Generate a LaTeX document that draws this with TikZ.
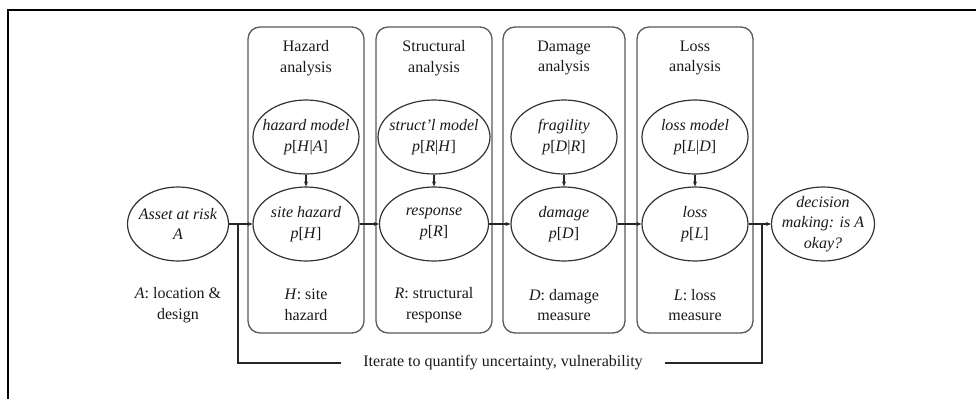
\documentclass[tikz,border=0pt]{standalone}
\usepackage{fontspec}
\setmainfont{Liberation Serif}
\usepackage{tikz}
\usetikzlibrary{shapes.geometric, arrows.meta}

\begin{document}
\begin{tikzpicture}[x=1pt, y=-1pt, >={Stealth[length=5pt, width=4pt]},
    every node/.style={font=\fontsize{16}{20.5}\selectfont, text=black!90, align=center},
    stage/.style={draw=black!65, line width=1.3pt, rounded corners=12pt, minimum width=116pt, minimum height=306pt, inner sep=0pt},
    est/.style={draw=black!80, line width=1.2pt, ellipse, minimum width=106pt, minimum height=74pt, inner xsep=-25pt, inner ysep=-6pt},
    link/.style={draw=black!85, line width=1.2pt}]
    \useasboundingbox (0,0) rectangle (976,399);
    \draw[line width=2.5pt] (8,399) -- (8,10) -- (976,10);
    % analysis boxes
    \node[stage] (HB) at (306,180) {};
    \node[stage] (RB) at (434,180) {};
    \node[stage, minimum width=122pt] (DB) at (564,180) {};
    \node[stage] (LB) at (695,180) {};
    \node (HT) at (306,58) {Hazard\\analysis};
    \node (RT) at (434,58) {Structural\\analysis};
    \node (DT) at (564,58) {Damage\\analysis};
    \node (LT) at (695,58) {Loss\\analysis};
    % models
    \node[est] (HM) at (306,137) {\textit{hazard model}\\\textit{p}[\textit{H}|\textit{A}]};
    \node[est, minimum width=112pt] (RM) at (434,137) {\textit{struct'l model}\\\textit{p}[\textit{R}|\textit{H}]};
    \node[est] (DM) at (564,137) {\textit{fragility}\\\textit{p}[\textit{D}|\textit{R}]};
    \node[est] (LM) at (695,137) {\textit{loss model}\\\textit{p}[\textit{L}|\textit{D}]};
    % chain
    \node[est, minimum width=101pt] (asset) at (178,224) {\textit{Asset at risk}\\\textit{A}};
    \node[est] (site) at (306,224) {\textit{site hazard}\\\textit{p}[\textit{H}]};
    \node[est, minimum width=109pt] (resp) at (434,224) {\textit{response}\\\textit{p}[\textit{R}]};
    \node[est] (dmg) at (564,224) {\textit{damage}\\\textit{p}[\textit{D}]};
    \node[est] (loss) at (695,224) {\textit{loss}\\\textit{p}[\textit{L}]};
    \node[est, minimum width=103pt] (dec) at (823,224) {\textit{decision}\\\textit{making: is A}\\\textit{okay?}};
    % labels
    \node (AL) at (178,305) {\textit{A}: location \&\\design};
    \node (HL) at (306,305) {\textit{H}: site\\hazard};
    \node (RL) at (434,305) {\textit{R}: structural\\response};
    \node (DL) at (564,305) {\textit{D}: damage\\measure};
    \node (LL) at (695,305) {\textit{L}: loss\\measure};
    \node[inner xsep=22pt] (iter) at (503,363) {Iterate to quantify uncertainty, vulnerability};
    \coordinate (fbL) at (238,224);
    \coordinate (fbR) at (762,224);
    \draw[link, ->] (HM) -- (site);
    \draw[link, ->] (RM) -- (resp);
    \draw[link, ->] (DM) -- (dmg);
    \draw[link, ->] (LM) -- (loss);
    \draw[link, ->] (asset) -- (site);
    \draw[link, ->] (site) -- (resp);
    \draw[link, ->] (resp) -- (dmg);
    \draw[link, ->] (dmg) -- (loss);
    \draw[link, ->] (loss) -- (dec);
    \draw[link] (fbL) |- (iter.west);
    \draw[link] (iter.east) -| (fbR);
\end{tikzpicture}
\end{document}
